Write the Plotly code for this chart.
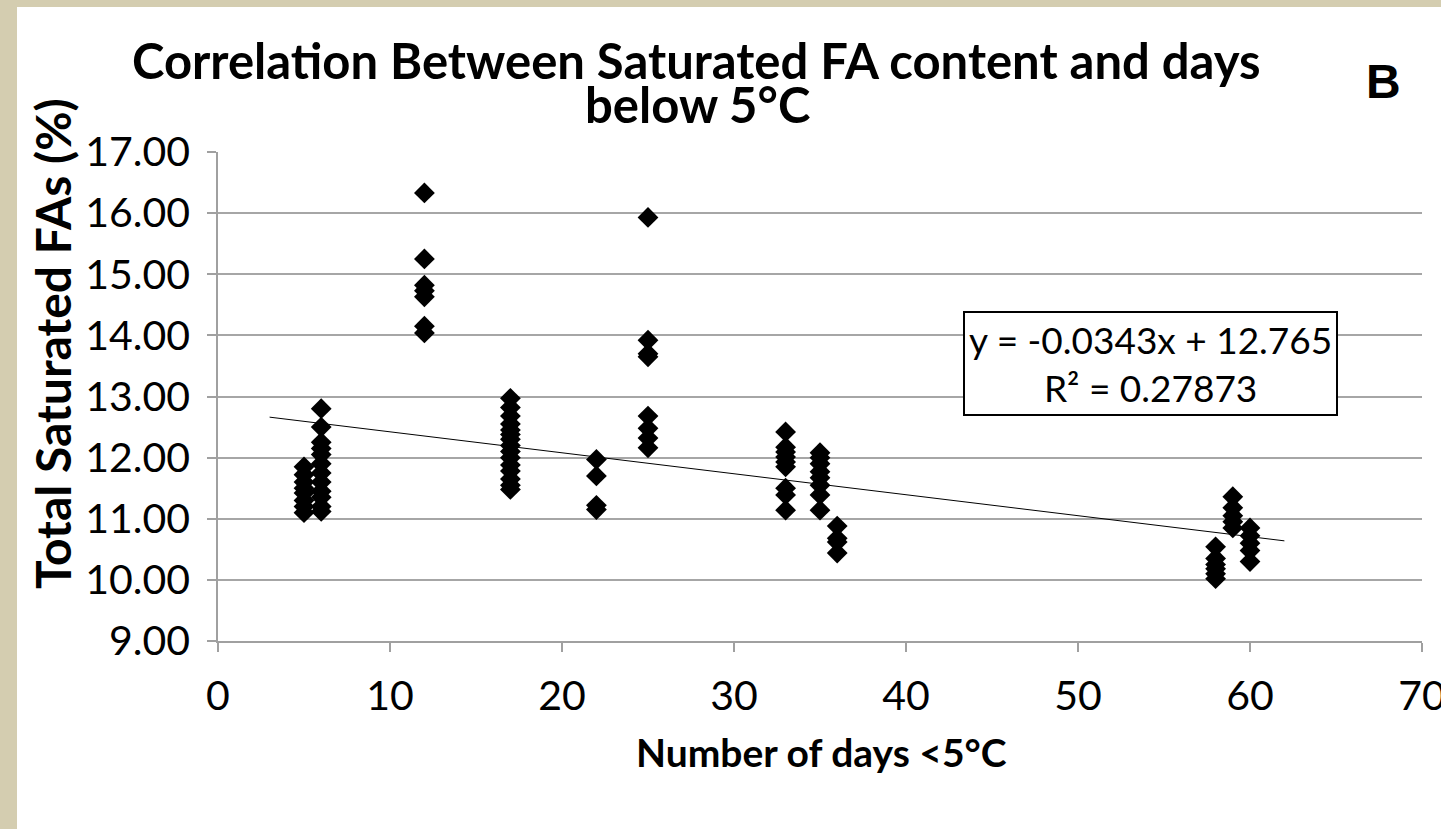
import plotly.graph_objects as go

# ---- data ----
days = [5]*8 + [6]*12 + [12]*7 + [17]*15 + [22]*4 + [25]*8 + [33]*9 + [35]*8 + [36]*4 + [58]*6 + [59]*5 + [60]*5
sat_fa = (
    [11.85, 11.72, 11.60, 11.50, 11.42, 11.30, 11.20, 11.10]
    + [12.80, 12.50, 12.25, 12.15, 12.05, 11.90, 11.75, 11.60, 11.45, 11.35, 11.20, 11.12]
    + [16.33, 15.25, 14.82, 14.73, 14.63, 14.15, 14.04]
    + [12.97, 12.82, 12.68, 12.55, 12.45, 12.38, 12.30, 12.20, 12.10, 12.00, 11.88, 11.78, 11.65, 11.55, 11.48]
    + [11.97, 11.70, 11.22, 11.15]
    + [15.93, 13.92, 13.70, 13.65, 12.68, 12.48, 12.32, 12.16]
    + [12.42, 12.17, 12.09, 12.01, 11.93, 11.85, 11.50, 11.39, 11.14]
    + [12.08, 12.00, 11.90, 11.77, 11.67, 11.55, 11.39, 11.14]
    + [10.88, 10.68, 10.62, 10.44]
    + [10.54, 10.35, 10.25, 10.18, 10.10, 10.02]
    + [11.36, 11.18, 11.05, 10.95, 10.85]
    + [10.85, 10.72, 10.60, 10.48, 10.30]
)
trend_slope = -0.0343
trend_intercept = 12.765
trend_x = [3, 62]
r_squared = 0.27873

title_line1 = "Correlation Between Saturated FA content and days"
title_line2 = "below 5°C"
x_title = "Number of days <5°C"
y_title = "Total Saturated FAs (%)"
panel_label = "B"

# ---- layout geometry (pixels) ----
W, H = 1441, 829
L, R, T, B = 218, 1422, 152, 641


def xp(px):
    return (px - L) / (R - L)


def yp(py):
    return (B - py) / (B - T)


FONT = "Lato, 'Open Sans', sans-serif"

fig = go.Figure()
fig.add_trace(go.Scatter(
    x=days, y=sat_fa, mode="markers",
    marker=dict(symbol="diamond", size=16, color="black", line=dict(width=0)),
    showlegend=False, cliponaxis=False,
))
fig.add_trace(go.Scatter(
    x=trend_x, y=[trend_slope * v + trend_intercept for v in trend_x],
    mode="lines", line=dict(color="black", width=1), showlegend=False,
))

beige = "#d4cdb0"
fig.update_layout(
    width=W, height=H,
    margin=dict(l=L, r=W - R, t=T, b=H - B, pad=0, autoexpand=False),
    paper_bgcolor=beige, plot_bgcolor="white",
    font=dict(family=FONT, color="black"),
    shapes=[dict(type="rect", xref="paper", yref="paper", layer="below",
                 x0=xp(17), x1=xp(W + 5), y0=yp(H + 5), y1=yp(7),
                 fillcolor="white", line=dict(width=0))],
    xaxis=dict(range=[0, 70], dtick=10, tick0=0, showgrid=False, zeroline=False,
               showline=True, linecolor="#a0a0a0", linewidth=1.5,
               ticks="outside", ticklen=9, tickcolor="#a0a0a0", tickwidth=1.5,
               tickfont=dict(size=41, family=FONT), ticklabelstandoff=9,
               ticklabeloverflow="allow", automargin=False),
    yaxis=dict(range=[9, 17], dtick=1, tick0=9, tickformat=".2f",
               showgrid=True, gridcolor="#a6a6a6", gridwidth=1.5, zeroline=False,
               showline=True, linecolor="#a0a0a0", linewidth=1.5,
               ticks="outside", ticklen=9, tickcolor="#a0a0a0", tickwidth=1.5,
               tickfont=dict(size=41, family=FONT), ticklabelstandoff=9,
               automargin=False),
    annotations=[
        dict(text="<b>%s</b>" % title_line1, x=xp(696), y=yp(60), xref="paper", yref="paper",
             showarrow=False, font=dict(size=49, family=FONT), xanchor="center", yanchor="middle"),
        dict(text="<b>%s</b>" % title_line2, x=xp(697), y=yp(104), xref="paper", yref="paper",
             showarrow=False, font=dict(size=49, family=FONT), xanchor="center", yanchor="middle"),
        dict(text="<b>%s</b>" % panel_label, x=xp(1383), y=yp(81), xref="paper", yref="paper",
             showarrow=False, font=dict(size=48, family="Liberation Sans, Arial, sans-serif"),
             xanchor="center", yanchor="middle"),
        dict(text="<b>%s</b>" % x_title, x=xp(821), y=yp(752), xref="paper", yref="paper",
             showarrow=False, font=dict(size=39, family=FONT), xanchor="center", yanchor="middle"),
        dict(text="<b>%s</b>" % y_title, x=xp(52), y=yp(344), xref="paper", yref="paper",
             showarrow=False, font=dict(size=48, family=FONT), textangle=-90,
             xanchor="center", yanchor="middle"),
        dict(text="y = %.4fx + %.3f<br>R² = %.5f" % (trend_slope, trend_intercept, r_squared),
             x=xp(1150), y=yp(363), xref="paper", yref="paper", showarrow=False,
             font=dict(size=37, family=FONT), xanchor="center", yanchor="middle",
             bordercolor="black", borderwidth=2, borderpad=4, bgcolor="white", align="center"),
    ],
)

fig.write_html("out.html")
